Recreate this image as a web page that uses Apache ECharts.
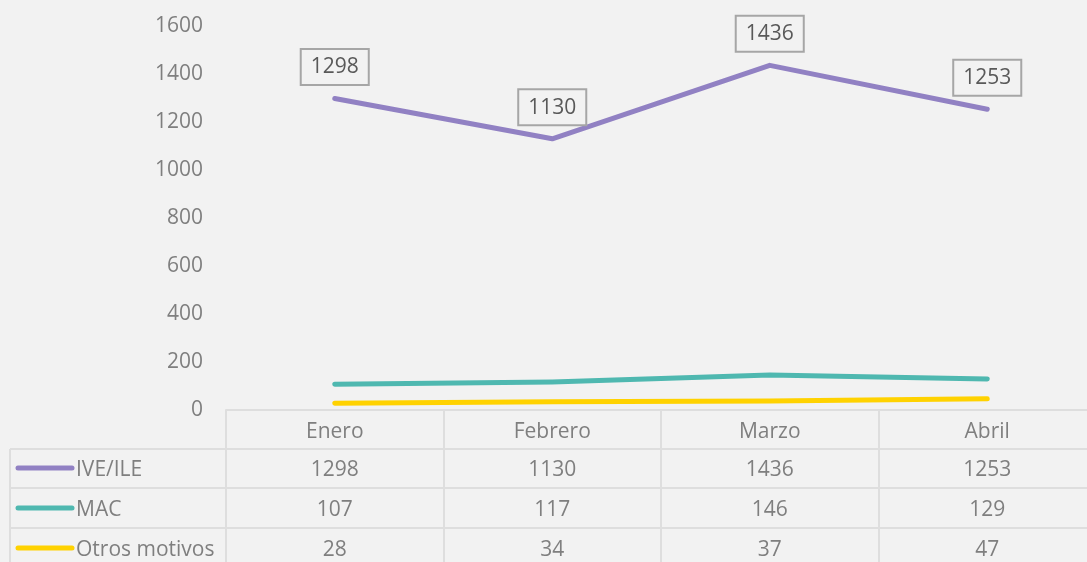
<!DOCTYPE html>
<html>
<head>
<meta charset="utf-8">
<script src="https://cdn.jsdelivr.net/npm/echarts@6/dist/echarts.min.js"></script>
<style>
html,body{margin:0;padding:0;background:#f2f2f2;overflow:hidden;}
#c{width:1096px;height:562px;}
</style>
</head>
<body>
<div id="c"></div>
<script>
var categories = ['Enero', 'Febrero', 'Marzo', 'Abril'];
var seriesNames = ['IVE/ILE', 'MAC', 'Otros motivos'];
var ive = [1298, 1130, 1436, 1253];
var mac = [107, 117, 146, 129];
var otros = [28, 34, 37, 47];
var yTicks = [0, 200, 400, 600, 800, 1000, 1200, 1400, 1600];

var colors = ['#9181c3', '#4fb8b0', '#ffd200'];
var allData = [ive, mac, otros];
var font = 'Open Sans';
var textColor = '#7f7f7f';
var gridColor = '#dedede';

var chart = echarts.init(document.getElementById('c'));

var series = seriesNames.map(function (n, i) {
  return {
    name: n,
    type: 'line',
    data: allData[i],
    symbol: 'circle',
    symbolSize: 3,
    showSymbol: true,
    itemStyle: { color: colors[i] },
    lineStyle: { color: colors[i], width: 5, cap: 'round', join: 'round' },
    label: {
      show: i === 0,
      position: 'top',
      distance: 13,
      fontFamily: font,
      fontSize: 21,
      color: '#595959',
      borderColor: '#a6a6a6',
      borderWidth: 2,
      padding: [7, 9, 6, 9],
      backgroundColor: '#f2f2f2',
      formatter: function (p) { return String(p.value); }
    },
    emphasis: { disabled: true },
    z: 3 - i
  };
});

chart.setOption({
  backgroundColor: '#f2f2f2',
  animation: false,
  grid: { left: 226, top: 26, bottom: 152, right: 0, containLabel: false },
  xAxis: {
    type: 'category',
    data: categories,
    boundaryGap: true,
    axisLine: { show: true, lineStyle: { color: gridColor, width: 2 } },
    axisTick: { show: true, length: 152, lineStyle: { color: gridColor, width: 2 } },
    axisLabel: { margin: 12, fontFamily: font, fontSize: 21, color: textColor }
  },
  yAxis: {
    type: 'value',
    min: yTicks[0],
    max: yTicks[yTicks.length - 1],
    interval: yTicks[1] - yTicks[0],
    axisLine: { show: false },
    axisTick: { show: false },
    splitLine: { show: false },
    axisLabel: { margin: 23, fontFamily: font, fontSize: 21, color: textColor, padding: [4, 0, 0, 0], formatter: function (v) { return String(v); } }
  },
  series: series
});

// data table below the axis
var rowY = [470, 510, 550];
var rowLines = [449, 488, 528];
var elements = [];
rowLines.forEach(function (y) {
  elements.push({ type: 'line', shape: { x1: 10, y1: y, x2: 1096, y2: y }, style: { stroke: gridColor, lineWidth: 2 }, z: 1 });
});
elements.push({ type: 'line', shape: { x1: 10, y1: 449, x2: 10, y2: 562 }, style: { stroke: gridColor, lineWidth: 2 }, z: 1 });
seriesNames.forEach(function (n, i) {
  elements.push({ type: 'line', shape: { x1: 18, y1: rowY[i] - 2, x2: 72, y2: rowY[i] - 2 }, style: { stroke: colors[i], lineWidth: 5, lineCap: 'round' }, z: 2 });
  elements.push({ type: 'text', x: 76, y: rowY[i], style: { text: n, font: '21px "' + font + '"', fill: textColor, textAlign: 'left', textVerticalAlign: 'middle' }, z: 2 });
  allData[i].forEach(function (v, j) {
    var x = chart.convertToPixel({ xAxisIndex: 0 }, categories[j]);
    elements.push({ type: 'text', x: x, y: rowY[i], style: { text: String(v), font: '21px "' + font + '"', fill: textColor, textAlign: 'center', textVerticalAlign: 'middle' }, z: 2 });
  });
});
chart.setOption({ graphic: { elements: elements } });
</script>
</body>
</html>
